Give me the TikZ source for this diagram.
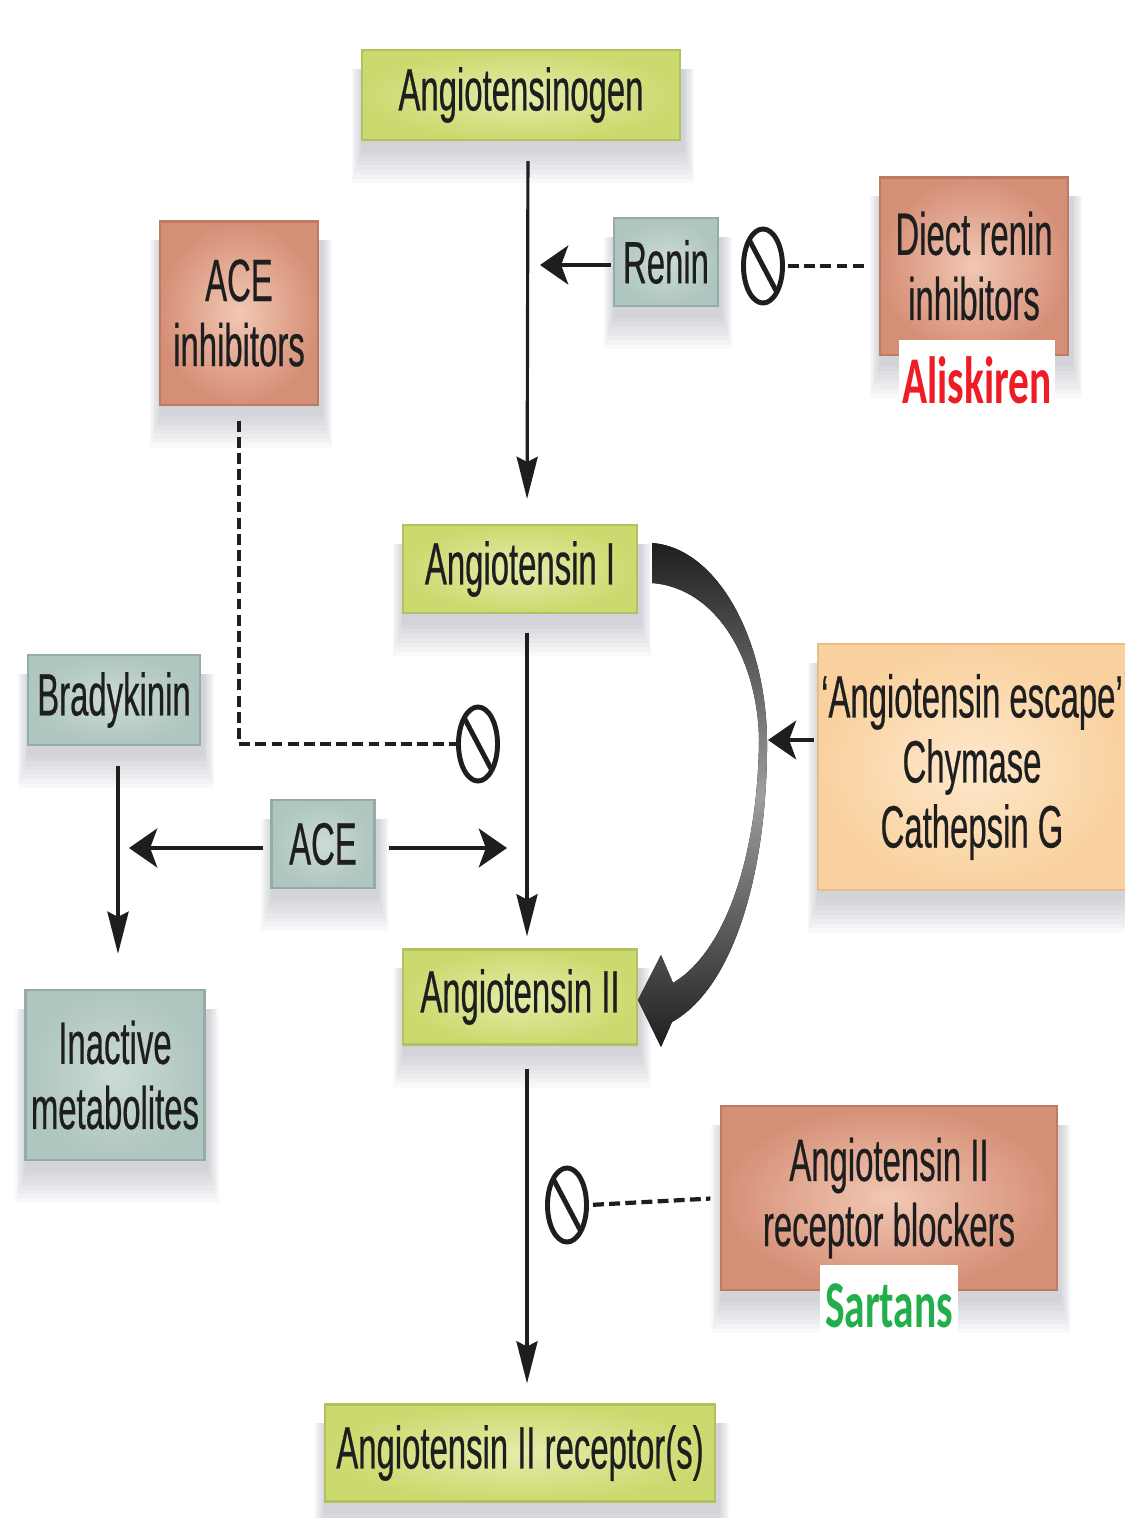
\documentclass[tikz,border=0pt]{standalone}
\usepackage{fontspec}
\setmainfont{Liberation Sans}
\newfontfamily\cond[FakeStretch=0.55,FakeBold=0.4]{Liberation Sans}
\newfontfamily\drugfont[FakeStretch=0.62]{Carlito}
\usetikzlibrary{arrows.meta,shapes.geometric,calc}
\pgfdeclarelayer{paper}
\pgfdeclarelayer{shade}
\pgfsetlayers{paper,shade,main}

% fill colours of the boxes
\definecolor{gIn}{HTML}{E4ECAA}
\definecolor{gOut}{HTML}{CCD96E}
\definecolor{gLine}{HTML}{B3C05E}
\definecolor{bIn}{HTML}{CCDBD7}
\definecolor{bOut}{HTML}{AFC5BF}
\definecolor{bLine}{HTML}{95ABA5}
\definecolor{sIn}{HTML}{F1C8B4}
\definecolor{sOut}{HTML}{D68F77}
\definecolor{sLine}{HTML}{BE7A63}
\definecolor{pIn}{HTML}{FEE8CC}
\definecolor{pOut}{HTML}{F9D19E}
\definecolor{pLine}{HTML}{E6BD8A}
\definecolor{inkc}{HTML}{1E1E1E}
\definecolor{alisk}{HTML}{EE1C24}
\definecolor{sartc}{HTML}{22AE4B}
\definecolor{shadowc}{HTML}{5A6478}

\tikzset{
  box/.style={rectangle, inner sep=0pt, align=center, text=inkc,
    font=\cond\fontsize{17}{18.5}\selectfont, line width=0.6pt},
  gbox/.style={box, inner color=gIn, outer color=gOut, draw=gLine},
  bbox/.style={box, inner color=bIn, outer color=bOut, draw=bLine},
  sbox/.style={box, inner color=sIn, outer color=sOut, draw=sLine},
  pbox/.style={box, inner color=pIn, outer color=pOut, draw=pLine},
  drugbox/.style={rectangle, fill=white, inner sep=0pt,
    font=\drugfont\bfseries\fontsize{19}{20}\selectfont},
  varrow/.style={draw=inkc, line width=0.9pt,
    -{Stealth[length=12pt, width=6pt, inset=1.5pt]}},
  harrow/.style={draw=inkc, line width=1.4pt,
    -{Stealth[length=8pt, width=11pt, inset=2pt]}},
  inhib/.style={draw=inkc, line width=1.2pt, dash pattern=on 3.1pt off 1.5pt},
  nosym/.style={ellipse, draw=inkc, line width=1.4pt, inner sep=0pt,
    minimum width=0.39cm, minimum height=0.74cm,
    path picture={\draw[inkc, line width=1.4pt]
      (path picture bounding box.north west) -- (path picture bounding box.south east);}}
}

\begin{document}
\begin{tikzpicture}[x=0.01cm, y=-0.01cm]
  \path[use as bounding box] (0,0) rectangle (1124,1518);
  \begin{pgfonlayer}{paper}
    \fill[white] (0,0) rectangle (1124,1518);
  \end{pgfonlayer}

  % main cascade
  \node[gbox, minimum width=3.18cm, minimum height=0.90cm] (agen) at (521,95) {Angiotensinogen};
  \node[gbox, minimum width=2.34cm, minimum height=0.88cm] (ang1) at (520,569) {Angiotensin I};
  \node[gbox, minimum width=2.33cm, minimum height=0.95cm] (ang2) at (520,997) {Angiotensin II};
  \node[gbox, minimum width=3.90cm, minimum height=0.97cm] (recep) at (520,1453) {Angiotensin II receptor(s)};

  % enzymes and side products
  \node[bbox, minimum width=1.04cm, minimum height=0.88cm] (renin) at (666,262) {Renin};
  \node[bbox, minimum width=1.72cm, minimum height=0.90cm] (brady) at (114,700) {Bradykinin};
  \node[bbox, minimum width=1.03cm, minimum height=0.88cm] (ace) at (323,844) {ACE};
  \node[bbox, minimum width=1.79cm, minimum height=1.70cm] (inact) at (115,1075) {Inactive\\metabolites};
  \node[pbox, minimum width=3.08cm, minimum height=2.45cm] (esc) at (972,767)
    {‘Angiotensin escape’\\Chymase\\Cathepsin G};

  % drug classes
  \node[sbox, minimum width=1.58cm, minimum height=1.83cm] (aceinh) at (239,313) {ACE\\inhibitors};
  \node[sbox, minimum width=1.88cm, minimum height=1.77cm] (drinh) at (974,266) {Diect renin\\inhibitors};
  \node[sbox, minimum width=3.35cm, minimum height=1.84cm] (arb) at (889,1198) {Angiotensin II\\receptor blockers};
  \node[drugbox, minimum width=1.55cm, minimum height=0.80cm, text=alisk] (alisk) at (977,380) {Aliskiren};
  \node[drugbox, minimum width=1.38cm, minimum height=0.82cm, text=sartc] (sart) at (889,1306) {Sartans};

  % soft shadows under the boxes
  \begin{pgfonlayer}{shade}
    \foreach \n in {agen,ang1,ang2,recep,renin,brady,ace,inact,esc,aceinh,drinh,arb}{
      \foreach \k in {1,...,8}{
        \fill[shadowc, opacity=0.035]
          ($(\n.north west)+(2-1.4*\k,20)$) rectangle ($(\n.south east)+(2+1.4*\k,6+4.5*\k)$);
      }
    }
  \end{pgfonlayer}

  % inhibition signs
  \node[nosym] (ban1) at (763,266) {};
  \node[nosym] (ban2) at (478,744) {};
  \node[nosym] (ban3) at (567,1205) {};

  % arrow targets on the cascade axis
  \coordinate (hitR) at (540,265);
  \coordinate (hitA) at (507,848);
  \coordinate (hitB) at (129,848);
  \coordinate (hitC) at (768,740);

  % cascade arrows
  \draw[varrow, shorten <=0.2cm, shorten >=0.25cm] ([xshift=0.07cm]agen.south) -- ([xshift=0.07cm]ang1.north);
  \draw[varrow, shorten <=0.19cm, shorten >=0.12cm] ([xshift=0.07cm]ang1.south) -- ([xshift=0.07cm]ang2.north);
  \draw[varrow, shorten <=0.23cm, shorten >=0.2cm] ([xshift=0.07cm]ang2.south) -- ([xshift=0.07cm]recep.north);
  \draw[varrow, line width=1.1pt, shorten <=0.2cm, shorten >=0.35cm]
    ([xshift=0.04cm]brady.south) -- ([xshift=0.03cm]inact.north);

  % enzyme arrows
  \draw[harrow, shorten <=0.02cm] (renin.west |- hitR) -- (hitR);
  \draw[harrow, shorten <=0.07cm] (ace.west |- hitB) -- (hitB);
  \draw[harrow, shorten <=0.13cm] (ace.east |- hitA) -- (hitA);
  \draw[harrow, line width=1.2pt, shorten <=0.03cm] (esc.west |- hitC) -- (hitC);

  % inhibition links
  \draw[inhib, shorten >=0.12cm, shorten <=0.03cm] (ban1.east) -- (drinh.west);
  \draw[inhib, shorten >=0.10cm, shorten <=0.04cm] (ban3.east) -- (arb.west);
  \draw[inhib, shorten <=0.15cm] (aceinh.south) |- (ban2.west);

  % chymase / cathepsin G bypass from angiotensin I to angiotensin II
  \fill[top color=black!88, bottom color=black!88, middle color=black!38]
    (652,543) .. controls (718,548) and (766,640) .. (767,740)
    .. controls (768,860) and (738,985) .. (672,1022)
    -- (661,1047) -- (638,1000) -- (661,955) -- (673,983)
    .. controls (728,950) and (758,850) .. (759,740)
    .. controls (758,662) and (718,588) .. (652,583) -- cycle;
\end{tikzpicture}
\end{document}
